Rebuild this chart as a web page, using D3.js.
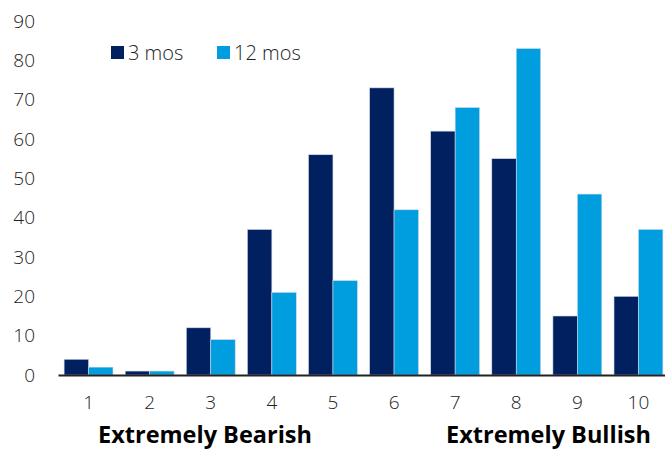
<!DOCTYPE html>
<html>
<head>
<meta charset="utf-8">
<script src="https://cdn.jsdelivr.net/npm/d3@7"></script>
<style>
  html, body { margin: 0; padding: 0; background: #fff; }
  svg { display: block; font-family: "Open Sans", "Noto Sans", sans-serif; }
</style>
</head>
<body>
<div id="chart"></div>
<script>
// Sentiment score buckets, 1 = extremely bearish, 10 = extremely bullish
const categories = ["1", "2", "3", "4", "5", "6", "7", "8", "9", "10"];
const seriesNames = ["3 mos", "12 mos"];
const threeMonths = [4, 1, 12, 37, 56, 73, 62, 55, 15, 20];
const twelveMonths = [2, 1, 9, 21, 24, 42, 68, 83, 46, 37];
const yTicks = [0, 10, 20, 30, 40, 50, 60, 70, 80, 90];
const colors = ["#002060", "#009ede"];

const width = 665, height = 451;
const margin = { top: 21, right: -4, bottom: 76, left: 58 };
const innerW = width - margin.left - margin.right;
const innerH = height - margin.top - margin.bottom;
const labelFont = "'Open Sans', sans-serif";

const svg = d3.select("#chart").append("svg")
  .attr("width", width).attr("height", height);

const g = svg.append("g").attr("transform", `translate(${margin.left},${margin.top})`);

const x0 = d3.scaleBand().domain(categories).range([0, innerW]).paddingInner(0.2).paddingOuter(0.1);
const x1 = d3.scaleBand().domain(seriesNames).range([0, x0.bandwidth()]);
const y = d3.scaleLinear().domain([0, 90]).range([innerH, 0]);

const rows = categories.map((c, i) => ({ cat: c, values: [threeMonths[i], twelveMonths[i]] }));

// Bars
const groups = g.selectAll(".grp").data(rows).join("g")
  .attr("transform", d => `translate(${x0(d.cat)},0)`);
groups.selectAll("rect").data(d => d.values.map((v, k) => ({ key: seriesNames[k], v, k })))
  .join("rect")
  .attr("x", d => x1(d.key))
  .attr("width", x1.bandwidth())
  .attr("y", d => y(d.v))
  .attr("height", d => innerH - y(d.v))
  .attr("fill", d => colors[d.k])
  .attr("stroke", "#d0d8e8")
  .attr("stroke-width", 0.6);

// Y axis (labels only)
const yAxis = g.append("g")
  .call(d3.axisLeft(y).tickValues(yTicks).tickSize(0).tickPadding(23));
yAxis.select(".domain").remove();
yAxis.selectAll("text").attr("font-size", 19).attr("font-weight", 300).attr("fill", "#222")
  .attr("font-family", labelFont);

// X axis
const xAxis = g.append("g").attr("transform", `translate(0,${innerH})`)
  .call(d3.axisBottom(x0).tickSize(0).tickPadding(21));
xAxis.select(".domain").attr("stroke", "#222").attr("stroke-width", 2);
xAxis.selectAll("text").attr("font-size", 19).attr("font-weight", 300).attr("fill", "#222")
  .attr("font-family", labelFont);

// End labels
svg.append("text").attr("x", 205).attr("y", 443).attr("text-anchor", "middle")
  .attr("font-size", 23.5).attr("font-weight", "bold").attr("fill", "#000")
  .text("Extremely Bearish");
svg.append("text").attr("x", 651).attr("y", 443).attr("text-anchor", "end")
  .attr("font-size", 23.5).attr("font-weight", "bold").attr("fill", "#000")
  .text("Extremely Bullish");

// Legend
const legend = svg.append("g").attr("transform", "translate(111,46)");
const legendX = [0, 106];
seriesNames.forEach((name, k) => {
  const lg = legend.append("g").attr("transform", `translate(${legendX[k]},0)`);
  lg.append("rect").attr("width", 13).attr("height", 13).attr("fill", colors[k]);
  lg.append("text").attr("x", 17).attr("y", 14).attr("font-size", 20).attr("font-weight", 300)
    .attr("fill", "#222").text(name);
});
</script>
</body>
</html>
